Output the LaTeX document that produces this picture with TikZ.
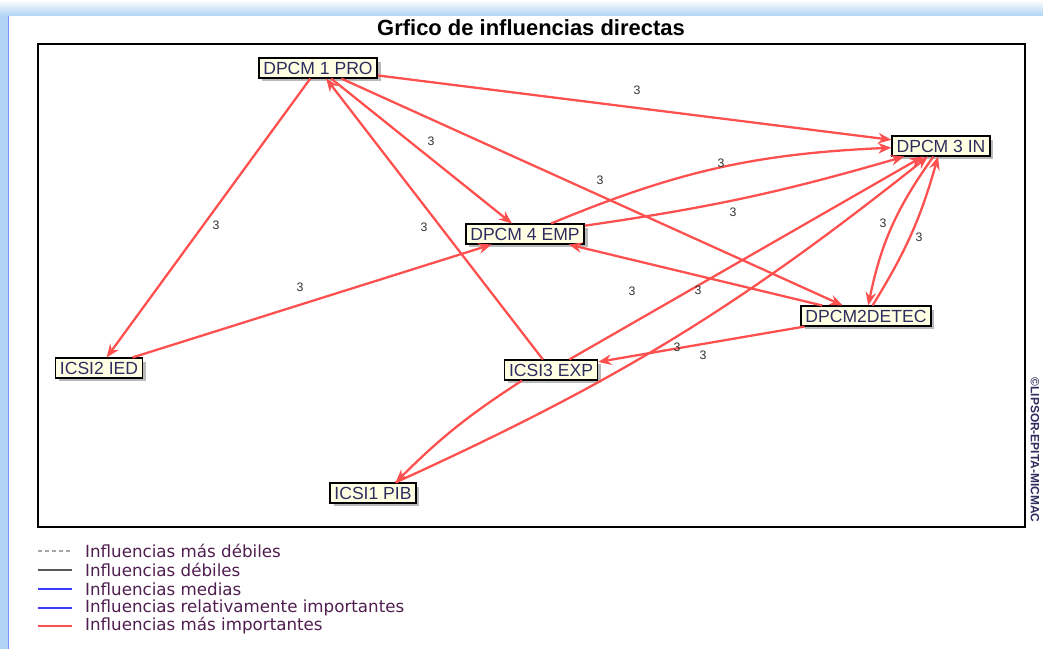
\documentclass[tikz,border=0pt]{standalone}
\usepackage{fontspec}
\setmainfont{Liberation Sans}
\newfontfamily\legendfont{DejaVu Sans}
\usetikzlibrary{arrows.meta, shadows}
\definecolor{inflred}{RGB}{255,80,80}
\definecolor{boxfill}{RGB}{255,255,228}
\definecolor{boxink}{RGB}{45,45,95}
\definecolor{legink}{RGB}{80,30,80}
\definecolor{framecol}{RGB}{175,210,245}
\definecolor{medblue}{RGB}{60,60,255}
\tikzset{
  var/.style={draw=black, line width=0.9pt, fill=boxfill, text=boxink,
    font=\fontsize{10}{12}\selectfont, inner xsep=2.5pt, inner ysep=2pt,
    drop shadow={shadow xshift=2pt, shadow yshift=-2pt, opacity=0.45, fill=black!60}},
  infl/.style={draw=inflred, line width=1.3pt, -{Stealth[length=7.5pt,width=6pt]}},
  wt/.style={font=\fontsize{7}{8}\selectfont, text=black!80},
  legline/.style={line width=0.6pt}
}

\begin{document}
\begin{tikzpicture}[x=0.02cm, y=-0.02cm]

  \useasboundingbox (0,0) rectangle (1043,649);

  % --- window frame ----------------------------------------------------------
  \shade[top color=white, bottom color=framecol] (0,0) rectangle (1043,16);
  \fill[framecol] (0,16) rectangle (8,649);
  \fill[white] (8,16) rectangle (1043,649);
  \draw[framecol!70!blue, thin] (8,16) -- (8,649);

  % --- title and plot frame ------------------------------------------------
  \node[font=\fontsize{12.5}{14}\selectfont\bfseries] (title) at (531,28) {Grfico de influencias directas};
  \draw[black, line width=0.7pt] (38,44) rectangle (1025,527);
  \node[rotate=-90, text=boxink, font=\fontsize{6.8}{7}\selectfont\bfseries] (copy) at (1035,450) {©LIPSOR-EPITA-MICMAC};

  % --- variables -------------------------------------------------------------
  \node[var] (pro)   at (318,68)  {DPCM 1 PRO};
  \node[var] (inn)   at (941,146) {DPCM 3 IN};
  \node[var] (emp)   at (525,234) {DPCM 4 EMP};
  \node[var] (detec) at (866,316) {DPCM2DETEC};
  \node[var] (ied)   at (99,368)  {ICSI2 IED};
  \node[var] (exp)   at (551,370) {ICSI3  EXP};
  \node[var] (pib)   at (373,493) {ICSI1 PIB};

  % --- direct influences -----------------------------------------------------
  \draw[infl] (pro) -- (inn);
  \draw[infl] (pro) -- (emp);
  \draw[infl] (pro) -- (detec);
  \draw[infl] (pro) -- (ied);
  \draw[infl] (exp) -- (pro);
  \draw[infl] (emp) to[bend left=10] (inn);
  \draw[infl] (emp) to[bend right=4] (inn);
  \draw[infl] (detec) -- (emp);
  \draw[infl] (inn) to[bend right=12] (detec);
  \draw[infl] (detec) to[bend right=8] (inn);
  \draw[infl] (exp) -- (inn);
  \draw[infl] (pib.25) to[bend right=7] (inn);
  \draw[infl] (ied) -- (emp);
  \draw[infl] (detec) -- (exp);
  \draw[infl] (exp.-160) to[bend right=6] (pib.25);

  % --- intensity labels ------------------------------------------------------
  \foreach \x/\y [count=\i] in {637/90, 431/141, 600/180, 216/225, 424/227,
      721/163, 733/212, 883/223, 919/237, 632/291, 698/290, 300/287,
      677/347, 703/355}
    \node[wt] (w\i) at (\x,\y) {3};

  % --- legend ----------------------------------------------------------------
  \draw[legline, black!35, dash pattern=on 2pt off 2pt] (38,551) -- (72,551);
  \draw[legline, black!65] (38,570) -- (72,570);
  \draw[legline, medblue] (38,589) -- (72,589);
  \draw[line width=1.5pt, medblue] (38,608) -- (72,608);
  \draw[line width=1.5pt, inflred] (38,626) -- (72,626);
  \begin{scope}[every node/.style={anchor=west, text=legink, font=\legendfont\fontsize{9.5}{11}\selectfont}]
    \node (l1) at (79,551) {Influencias más débiles};
    \node (l2) at (79,570) {Influencias débiles};
    \node (l3) at (79,589) {Influencias medias};
    \node (l4) at (79,608) {Influencias relativamente importantes};
    \node (l5) at (79,626) {Influencias más importantes};
  \end{scope}

\end{tikzpicture}
\end{document}
